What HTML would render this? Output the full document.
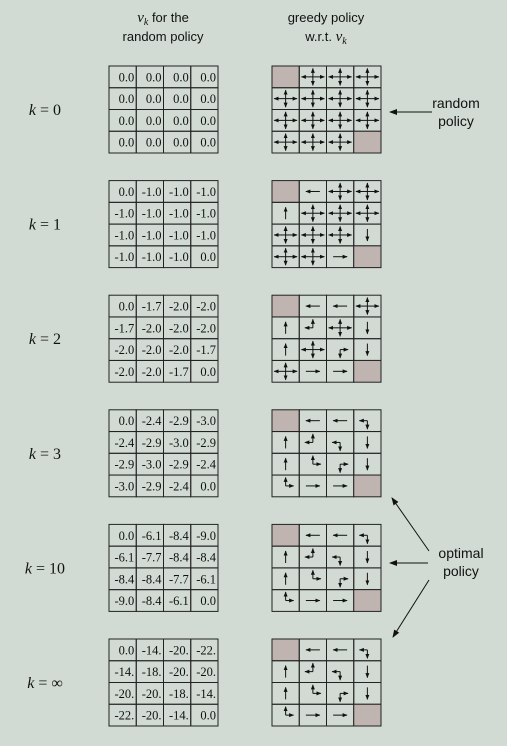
<!DOCTYPE html>
<html><head><meta charset="utf-8"><style>
body{margin:0;background:#d1dbd3;}
svg{display:block}
</style></head><body>
<svg id="fig" width="507" height="746" viewBox="0 0 507 746" xmlns="http://www.w3.org/2000/svg">
<defs><marker id="ah" markerWidth="5" markerHeight="5" refX="4.5" refY="2.5" orient="auto"><path d="M0,0.5 L5,2.5 L0,4.5 Z" fill="#111"/></marker>
<marker id="ah2" markerWidth="8" markerHeight="8" refX="7" refY="4" orient="auto"><path d="M0,1 L8,4 L0,7 Z" fill="#111"/></marker></defs>
<rect width="507" height="746" fill="#d1dbd3"/>
<g font-family="Liberation Sans, sans-serif" font-size="13" fill="#111" text-anchor="middle">
<text x="163" y="22"><tspan font-family="Liberation Serif, serif" font-style="italic" font-size="15">v</tspan><tspan font-family="Liberation Serif, serif" font-style="italic" font-size="10" dy="3">k</tspan><tspan dy="-3"> for the</tspan></text>
<text x="163" y="41">random policy</text></g>
<g font-family="Liberation Sans, sans-serif" font-size="13" fill="#111" text-anchor="middle">
<text x="326" y="22">greedy policy</text>
<text x="326" y="41">w.r.t. <tspan font-family="Liberation Serif, serif" font-style="italic" font-size="15">v</tspan><tspan font-family="Liberation Serif, serif" font-style="italic" font-size="10" dy="3">k</tspan></text></g>
<g font-family="Liberation Sans, sans-serif" font-size="14" fill="#111" text-anchor="middle">
<text x="456" y="108">random</text><text x="456" y="126">policy</text>
<line x1="432" y1="112" x2="390" y2="112" stroke="#111" stroke-width="1" marker-end="url(#ah2)"/></g>
<g font-family="Liberation Sans, sans-serif" font-size="14" fill="#111" text-anchor="middle">
<text x="461" y="558">optimal</text><text x="461" y="576">policy</text>
<line x1="428" y1="563" x2="390" y2="563" stroke="#111" stroke-width="1" marker-end="url(#ah2)"/>
<line x1="429" y1="551" x2="392" y2="498" stroke="#111" stroke-width="1" marker-end="url(#ah2)"/>
<line x1="429" y1="580" x2="393" y2="637" stroke="#111" stroke-width="1" marker-end="url(#ah2)"/></g>
<g id="rows"></g>
</svg>
<script>
const kLabels=["0","1","2","3","10","\u221E"];
const values=[
["0.0","0.0","0.0","0.0","0.0","0.0","0.0","0.0","0.0","0.0","0.0","0.0","0.0","0.0","0.0","0.0"],
["0.0","-1.0","-1.0","-1.0","-1.0","-1.0","-1.0","-1.0","-1.0","-1.0","-1.0","-1.0","-1.0","-1.0","-1.0","0.0"],
["0.0","-1.7","-2.0","-2.0","-1.7","-2.0","-2.0","-2.0","-2.0","-2.0","-2.0","-1.7","-2.0","-2.0","-1.7","0.0"],
["0.0","-2.4","-2.9","-3.0","-2.4","-2.9","-3.0","-2.9","-2.9","-3.0","-2.9","-2.4","-3.0","-2.9","-2.4","0.0"],
["0.0","-6.1","-8.4","-9.0","-6.1","-7.7","-8.4","-8.4","-8.4","-8.4","-7.7","-6.1","-9.0","-8.4","-6.1","0.0"],
["0.0","-14.","-20.","-22.","-14.","-18.","-20.","-20.","-20.","-20.","-18.","-14.","-22.","-20.","-14.","0.0"]];
const A="LURD", opt=["T","L","L","LD","U","LU","LD","D","U","UR","RD","D","UR","R","R","T"];
const policies=[
["T",A,A,A,A,A,A,A,A,A,A,A,A,A,A,"T"],
["T","L",A,A,"U",A,A,A,A,A,A,"D",A,A,"R","T"],
["T","L","L",A,"U","LU",A,"D","U",A,"RD","D",A,"R","R","T"],
opt,opt,opt];
const NS="http://www.w3.org/2000/svg";
const g=document.getElementById("rows");
function el(t,a,p){const e=document.createElementNS(NS,t);for(const k in a)e.setAttribute(k,a[k]);(p||g).appendChild(e);return e;}
const top0=66,step=114.6,cw=27.25,ch=21.75,lx=109,rx=272;
kLabels.forEach((k,i)=>{
 const y0=top0+i*step;
 const lab=el("text",{x:45,y:y0+49,"font-family":"Liberation Serif, serif","font-size":"16","text-anchor":"middle",fill:"#111"});
 
 
 lab.innerHTML='<tspan font-style="italic">k</tspan> = '+k;
 const vg=el("g",{});
 
 
 const pg=el("g",{});
 
 
 for(let c=0;c<16;c++){
  const r=Math.floor(c/4),col=c%4;
  const x=lx+col*cw,y=y0+r*ch;
  el("rect",{x:x,y:y,width:cw,height:ch,fill:"none",stroke:"#222","stroke-width":1},vg);
  const t=el("text",{x:x+cw-2,y:y+ch/2+4.5,"font-family":"Liberation Serif, serif","font-size":"12.5","text-anchor":"end",fill:"#111"},vg);
  
  
  t.textContent=values[i][c];
  const px=rx+col*cw;
  const p=policies[i][c];
  el("rect",{x:px,y:y,width:cw,height:ch,fill:p==="T"?"#c0b4b0":"none",stroke:"#222","stroke-width":1},pg);
  if(p==="T")continue;
  const cx=px+cw/2,cy=y+ch/2;
  const d={L:[-1,0],R:[1,0],U:[0,-1],D:[0,1]};
  if(p.length===1){
   const v=d[p],lh=p==="L"||p==="R"?7:6;
   el("line",{x1:cx-v[0]*lh,y1:cy-v[1]*lh,x2:cx+v[0]*lh,y2:cy+v[1]*lh,stroke:"#111","stroke-width":1,"marker-end":"url(#ah)"},pg);
  } else {
   for(const ch2 of p){const v=d[ch2],ln=(ch2==="L"||ch2==="R")?(p.length===4?11.5:8):8.5;
    el("line",{x1:cx,y1:cy,x2:cx+v[0]*ln,y2:cy+v[1]*ln,stroke:"#111","stroke-width":1,"marker-end":"url(#ah)"},pg);}
  }
 }
});
</script>
</body></html>
